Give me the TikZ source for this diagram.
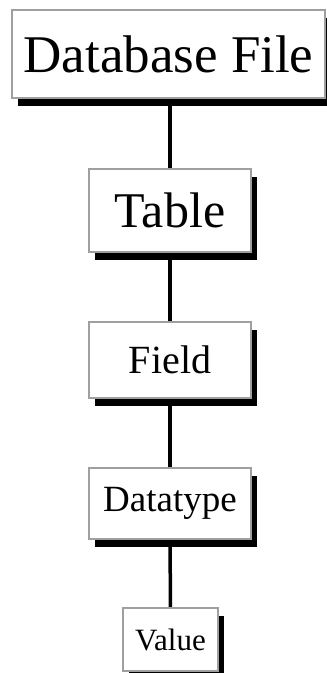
\documentclass[tikz,border=0pt]{standalone}
\usepackage{fontspec}
\setmainfont{Liberation Serif}
\usetikzlibrary{shadows,backgrounds}
\tikzset{
  levelbox/.style={draw=gray!75, line width=1.3pt, fill=white, inner sep=0pt,
    drop shadow={shadow xshift=6pt, shadow yshift=-8pt, fill=black, opacity=1}},
  link/.style={line width=3.5pt, black}
}
\begin{document}
\begin{tikzpicture}[x=1pt,y=1pt]
\useasboundingbox (0,0) rectangle (327,673);
\node[levelbox, minimum width=313pt, minimum height=88pt, font=\fontsize{53}{53}\selectfont] (db) at (168.5,619) {Database File};
\node[levelbox, minimum width=162pt, minimum height=83pt, font=\fontsize{50}{50}\selectfont] (tbl) at (170,462.5) {Table};
\node[levelbox, minimum width=162pt, minimum height=76pt, font=\fontsize{40}{40}\selectfont] (fld) at (170,313) {Field};
\node[levelbox, minimum width=162pt, minimum height=71pt, font=\fontsize{37}{37}\selectfont] (dt) at (170,169.5) {Datatype};
\node[levelbox, minimum width=95pt, minimum height=63pt, font=\fontsize{31}{31}\selectfont] (val) at (170.5,33.5) {Value};
\begin{scope}[on background layer]
\draw[link] (db.south -| tbl.north) -- (tbl.north);
\draw[link] (tbl.south) -- (fld.north);
\draw[link] (fld.south) -- (dt.north);
\draw[link] (dt.south) -- (val.north);
\end{scope}
\end{tikzpicture}
\end{document}
